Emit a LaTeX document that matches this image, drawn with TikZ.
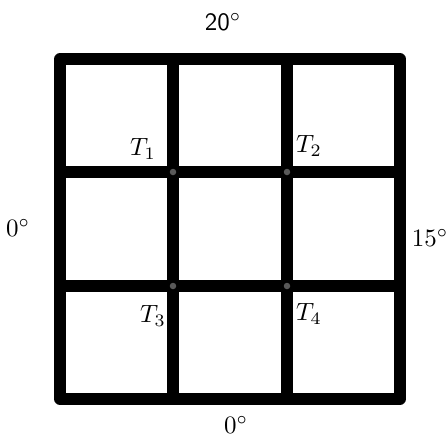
\documentclass[tikz,border=0pt]{standalone}
\tikzset{
  gridline/.style={line width=4.6pt, line join=round, black},
  tdot/.style={circle, fill=black!65, inner sep=0pt, minimum size=2.6pt},
  lbl/.style={inner sep=0pt}
}
\begin{document}
\begin{tikzpicture}[x=0.4pt,y=-0.4pt]
\useasboundingbox (0,0) rectangle (447,436);
\coordinate (A) at (60,59);
\coordinate (B) at (400,399);
\draw[gridline] (A) rectangle (B);
\draw[gridline] (173,59) -- (173,399);
\draw[gridline] (287,59) -- (287,399);
\draw[gridline] (60,172) -- (400,172);
\draw[gridline] (60,286) -- (400,286);
\node[tdot] (d1) at (173,172) {};
\node[tdot] (d2) at (287,172) {};
\node[tdot] (d3) at (173,286) {};
\node[tdot] (d4) at (287,286) {};
\node[lbl] (top) at (223,22) {\textsf{20}$^\circ$};
\node[lbl] (left) at (18,228) {$0^\circ$};
\node[lbl] (right) at (430,238) {$15^\circ$};
\node[lbl] (bottom) at (236,425) {$0^\circ$};
\node[lbl] (t1) at (143,149) {$T_1$};
\node[lbl] (t2) at (309,146) {$T_2$};
\node[lbl] (t3) at (153,316) {$T_3$};
\node[lbl] (t4) at (309,314) {$T_4$};
\end{tikzpicture}
\end{document}
